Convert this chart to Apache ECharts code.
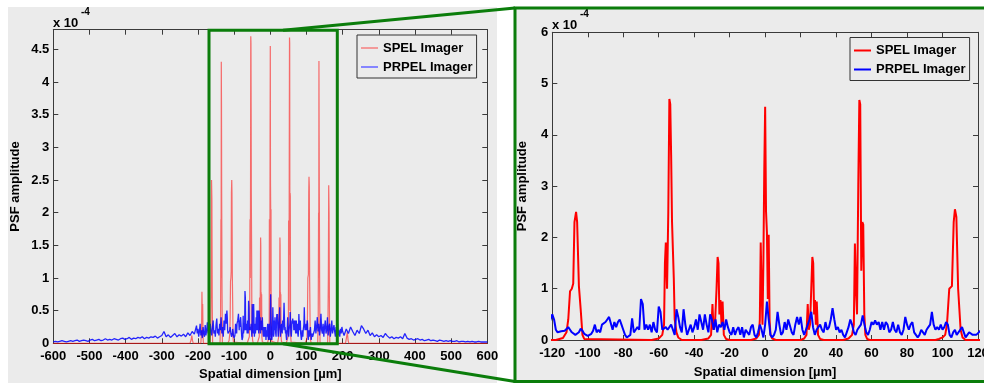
<!DOCTYPE html>
<html>
<head>
<meta charset="utf-8">
<script src="https://cdn.jsdelivr.net/npm/echarts@6/dist/echarts.min.js"></script>
<style>
html,body{margin:0;padding:0;background:#fff;}
#chart{width:984px;height:384px;}
</style>
</head>
<body>
<div id="chart"></div>
<script>
// ---------------- DATA (PSF amplitude, units of 1e-4) ----------------
const seriesNames = ['SPEL Imager', 'PRPEL Imager'];
const xTicksLeft = [-600, 600, 100];   // min, max, interval
const xTicksRight = [-120, 120, 20];

// PRPEL (blue) far left tail: x = -600 + 6k
const blueFarLeftStart = -600, blueFarLeftStep = 6;
const blueFarLeft = [
  0.02,0.03,0.02,0.03,0.04,0.03,0.02,0.03,0.04,0.03,
  0.04,0.05,0.03,0.04,0.05,0.04,0.03,0.05,0.06,0.04,
  0.05,0.06,0.04,0.05,0.07,0.05,0.06,0.05,0.07,0.06,
  0.05,0.07,0.08,0.06,0.07,0.09,0.06,0.08,0.07,0.09,
  0.08,0.10,0.07,0.09,0.08,0.10,0.09,0.11,0.08,0.10,
  0.12,0.18,0.10,0.13,0.09,0.12,0.15,0.10,0.13,0.11,
  0.14,0.10,0.16,0.12,0.18,0.14,0.27
];
// near left: x = -202 + 2k
const blueNearLeftStart = -202, blueNearLeftStep = 2;
const blueNearLeft = [
  0.15,0.22,0.10,0.18,0.30,0.12,0.20,0.08,0.25,0.15,
  0.10,0.28,0.12,0.20,0.32,0.15,0.22,0.10,0.30,0.18,
  0.12,0.25,0.35,0.15,0.20,0.10,0.28,0.38,0.15,0.22,
  0.12,0.30,0.20,0.40,0.15,0.25,0.10,0.35,0.20,0.45,0.30
];
// core: x = -120 + k
const blueCoreStart = -120, blueCoreStep = 1;
const blueCore = [
  0.5,0.4,0.2,0.15,0.15,0.17,0.15,0.18,0.2,0.25,
  0.2,0.15,0.12,0.1,0.08,0.15,0.22,0.18,0.12,0.1,
  0.08,0.1,0.12,0.18,0.3,0.15,0.2,0.15,0.3,0.28,
  0.35,0.4,0.45,0.42,0.2,0.35,0.25,0.35,0.4,0.3,
  0.2,0.1,0.05,0.05,0.1,0.42,0.15,0.2,0.25,0.2,
  0.8,0.7,0.2,0.3,0.2,0.3,0.15,0.35,0.2,0.15,
  0.65,0.55,0.2,0.2,0.25,0.2,0.2,0.3,0.2,0.1,
  0.6,0.45,0.25,0.15,0.6,0.3,0.1,0.2,0.3,0.15,
  0.25,0.4,0.2,0.5,0.5,0.2,0.5,0.3,0.15,0.5,
  0.4,0.2,0.4,0.15,0.3,0.25,0.35,0.2,0.4,0.25,
  0.15,0.1,0.25,0.1,0.2,0.25,0.1,0.25,0.05,0.2,
  0.15,0.1,0.25,0.3,0.1,0.05,0.15,0.3,0.2,0.05,
  0.3,0.75,0.4,0.1,0.05,0.1,0.2,0.55,0.3,0.1,
  0.15,0.35,0.2,0.4,0.4,0.15,0.1,0.3,0.45,0.3,
  0.45,0.2,0.1,0.2,0.3,0.4,0.55,0.25,0.1,0.2,
  0.25,0.3,0.2,0.15,0.35,0.2,0.25,0.4,0.62,0.4,
  0.2,0.25,0.15,0.2,0.1,0.05,0.15,0.25,0.4,0.3,
  0.15,0.1,0.2,0.25,0.3,0.48,0.3,0.15,0.1,0.2,
  0.35,0.3,0.38,0.3,0.35,0.2,0.35,0.2,0.35,0.3,
  0.15,0.2,0.35,0.2,0.15,0.3,0.15,0.1,0.2,0.45,
  0.3,0.2,0.3,0.35,0.15,0.1,0.05,0.1,0.2,0.15,
  0.1,0.2,0.25,0.3,0.55,0.3,0.2,0.25,0.2,0.3,
  0.2,0.25,0.35,0.3,0.1,0.05,0.15,0.2,0.1,0.1,
  0.2,0.25,0.15,0.05,0.1,0.15,0.12,0.1,0.12,0.1,
  0.1
];
// near right: x = 122 + 2k
const blueNearRightStart = 122, blueNearRightStep = 2;
const blueNearRight = [
  0.20,0.35,0.15,0.25,0.40,0.18,0.30,0.12,0.22,0.45,
  0.20,0.15,0.30,0.10,0.25,0.35,0.15,0.20,0.40,0.12,
  0.25,0.30,0.10,0.20,0.35,0.15,0.12,0.28,0.18,0.10,
  0.25,0.15,0.30,0.12,0.20,0.10,0.22,0.15,0.25,0.18
];
// far right: x = 204 + 6k
const blueFarRightStart = 204, blueFarRightStep = 6;
const blueFarRight = [
  0.12,0.22,0.15,0.25,0.18,0.12,0.20,0.15,0.27,0.22,
  0.15,0.20,0.12,0.16,0.10,0.13,0.10,0.12,0.09,0.15,
  0.11,0.08,0.10,0.07,0.09,0.08,0.10,0.07,0.15,0.08,
  0.06,0.07,0.05,0.06,0.07,0.05,0.06,0.04,0.05,0.06,
  0.04,0.05,0.04,0.03,0.05,0.04,0.03,0.04,0.03,0.04,
  0.03,0.03,0.04,0.02,0.03,0.03,0.02,0.03,0.02,0.03,
  0.02,0.02,0.03,0.02,0.02,0.02,0.02
];

// SPEL (red) sampled points
const redX = [
  -600,-222,-219,-217,-215,-213,
  -192,-190,-189,-188,-187,-186,-185,
  -166,-164.5,-163.5,-162.5,-161.5,-160.5,-159.5,
  -139,-137.5,-136.5,-136,-135.5,-135,-134.5,-133.5,-132.5,
  -118,-116,-114,-113,-112,-111,-110,-109,-108.2,-107.5,-106.6,-106,-105,-104,-103,-102,-101,
  -64,-60,-58,-57,-56.5,-56,-55.3,-54.6,-54,-53.5,-53,-52.5,-52,-51.5,-51,-50,-49,-47,
  -36,-32,-30.5,-29.7,-29.1,-28.3,-27.4,-26.8,-26.3,-25.8,-25.2,-24.6,-24,-23.3,-22,-20,
  -8,-5,-3.5,-3,-2.5,-2,-1.5,-1,-0.5,0,0.5,1,1.5,2,2.5,3,4,6,
  20,22,23.3,24,24.6,25.3,26,26.6,27.1,27.6,28.1,28.6,29.1,29.8,31,33,
  44,47,49,50,50.6,51.2,51.8,52.5,53.1,53.6,54.2,54.8,55.3,55.9,56.5,57.5,59,
  96,98,100,101.5,102.5,103.8,105.3,106.3,107,107.8,108.8,109.5,110.2,111.3,113,
  131,132.5,133.5,134,134.5,135,135.5,136.5,137.5,
  158.5,159.5,160.5,161.5,162.5,163.5,164.5,
  208,211,213,215,217,600
];
const redY = [
  0,0,0.05,0.12,0.04,0,
  0,0.2,0.79,0.45,0.6,0.1,0,
  0,0.3,1.0,2.5,2.2,0.6,0,
  0,0.4,1.9,1.0,4.31,3.7,2.3,0.8,0,
  0,0.02,0.04,0.07,0.15,0.4,0.95,1.0,1.1,2.3,2.5,2.3,1.05,0.6,0.1,0.02,0,
  0,0.03,0.1,0.3,1.5,1.9,1.0,2.5,4.7,4.6,3.6,2.3,2.3,1.2,0.4,0.15,0.05,0,
  0,0.03,0.1,0.7,0.2,0.3,1.0,1.62,1.5,0.5,0.78,0.3,0.75,0.1,0.02,0,
  0,0.03,0.1,0.4,1.9,1.0,0.3,1.5,3.3,4.55,2.5,2.1,0.8,2.05,0.4,0.1,0.03,0,
  0,0.03,0.1,0.7,0.2,0.3,1.0,1.62,1.5,0.5,0.78,0.3,0.75,0.1,0.02,0,
  0,0.03,0.1,0.3,1.88,1.0,0.5,3.0,4.68,4.6,1.35,2.3,2.25,0.5,0.1,0.02,0,
  0,0.02,0.05,0.1,0.3,1.0,1.05,2.3,2.55,2.4,1.0,0.6,0.2,0.05,0,
  0,0.4,2.0,1.0,4.32,3.2,2.3,0.8,0,
  0,0.4,1.0,2.42,2.0,0.5,0,
  0,0.1,0.17,0.05,0,0
];

// ---------------- build series data ----------------
function seg(start, step, vals) { return vals.map((v, i) => [start + i * step, v]); }
const blueData = [].concat(
  seg(blueFarLeftStart, blueFarLeftStep, blueFarLeft),
  seg(blueNearLeftStart, blueNearLeftStep, blueNearLeft),
  seg(blueCoreStart, blueCoreStep, blueCore),
  seg(blueNearRightStart, blueNearRightStep, blueNearRight),
  seg(blueFarRightStart, blueFarRightStep, blueFarRight)
);
const redData = redX.map((x, i) => [x, redY[i]]);

const FONT = '"Liberation Sans", Arial, Helvetica, sans-serif';
const FS = 13, FW = 'bold';
const AX = '#3a3a3a';
const GREEN = '#0b7d0b';
const PANEL = '#ebebeb';

function bottomX(grid, t, name, gap) {
  return {
    type: 'value', gridIndex: grid, min: t[0], max: t[1], interval: t[2], position: 'bottom',
    name: name, nameLocation: 'middle', nameGap: gap,
    nameTextStyle: { fontFamily: FONT, fontSize: FS, fontWeight: FW, color: '#000' },
    axisLine: { onZero: false, lineStyle: { color: AX, width: 1 } },
    axisTick: { inside: true, length: 5, lineStyle: { color: AX } },
    axisLabel: { fontFamily: FONT, fontSize: FS, fontWeight: FW, color: '#000', margin: 7 },
    splitLine: { show: false }
  };
}
function topX(grid, t) {
  return {
    type: 'value', gridIndex: grid, min: t[0], max: t[1], interval: t[2], position: 'top',
    axisLine: { onZero: false, lineStyle: { color: AX, width: 1 } },
    axisTick: { inside: true, length: 5, lineStyle: { color: AX } },
    axisLabel: { show: false }, splitLine: { show: false }
  };
}
function leftY(grid, max, interval, gap) {
  return {
    type: 'value', gridIndex: grid, min: 0, max: max, interval: interval, position: 'left',
    name: 'PSF amplitude', nameLocation: 'middle', nameGap: gap, nameRotate: 90,
    nameTextStyle: { fontFamily: FONT, fontSize: FS, fontWeight: FW, color: '#000' },
    axisLine: { show: true, onZero: false, lineStyle: { color: AX, width: 1 } },
    axisTick: { show: true, inside: true, length: 5, lineStyle: { color: AX } },
    axisLabel: { fontFamily: FONT, fontSize: FS, fontWeight: FW, color: '#000', margin: 4, showMaxLabel: max % interval === 0 },
    splitLine: { show: false }
  };
}
function rightY(grid, max, interval) {
  return {
    type: 'value', gridIndex: grid, min: 0, max: max, interval: interval, position: 'right',
    axisLine: { show: true, onZero: false, lineStyle: { color: AX, width: 1 } },
    axisTick: { show: true, inside: true, length: 5, lineStyle: { color: AX } },
    axisLabel: { show: false }, splitLine: { show: false }
  };
}
function legendAt(left, top, redC, blueC) {
  return {
    orient: 'vertical', left: left, top: top, icon: 'rect', itemWidth: 17, itemHeight: 2, itemGap: 3,
    padding: [5, 4, 3, 4], backgroundColor: PANEL, borderColor: '#333', borderWidth: 1, borderRadius: 0,
    textStyle: { fontFamily: FONT, fontSize: FS, fontWeight: FW, color: '#000', lineHeight: 16 },
    data: [
      { name: seriesNames[0], itemStyle: { color: redC } },
      { name: seriesNames[1], itemStyle: { color: blueC } }
    ],
    selectedMode: false
  };
}

const option = {
  animation: false,
  backgroundColor: '#ffffff',
  grid: [
    { left: 53.3, top: 29.7, width: 434, height: 313.6, outerBoundsMode: 'none', containLabel: false },
    { left: 552.3, top: 32.3, width: 425.7, height: 307.7, outerBoundsMode: 'none', containLabel: false }
  ],
  xAxis: [
    bottomX(0, xTicksLeft, 'Spatial dimension [\u00b5m]', 25),
    topX(0, xTicksLeft),
    bottomX(1, xTicksRight, 'Spatial dimension [\u00b5m]', 26),
    topX(1, xTicksRight)
  ],
  yAxis: [
    leftY(0, 4.8, 0.5, 31),
    rightY(0, 4.8, 0.5),
    leftY(1, 6, 1, 23),
    rightY(1, 6, 1)
  ],
  legend: [
    legendAt(357, 35, '#f39a9a', '#8585ff'),
    legendAt(850, 37.5, '#ff0000', '#0000ff')
  ],
  series: [
    { name: seriesNames[0], type: 'line', xAxisIndex: 0, yAxisIndex: 0, data: redData, showSymbol: false, symbol: 'none',
      lineStyle: { color: '#ff0000', width: 1.2, opacity: 0.55 }, itemStyle: { color: '#ff0000' }, z: 2 },
    { name: seriesNames[1], type: 'line', xAxisIndex: 0, yAxisIndex: 0, data: blueData, showSymbol: false, symbol: 'none',
      lineStyle: { color: '#0000ff', width: 1.3, opacity: 0.85 }, itemStyle: { color: '#0000ff' }, z: 3 },
    { name: seriesNames[0], type: 'line', xAxisIndex: 2, yAxisIndex: 2, data: redData, showSymbol: false, symbol: 'none',
      lineStyle: { color: '#ff0000', width: 2 }, itemStyle: { color: '#ff0000' }, z: 2 },
    { name: seriesNames[1], type: 'line', xAxisIndex: 2, yAxisIndex: 2, data: blueData, showSymbol: false, symbol: 'none',
      lineStyle: { color: '#0000ff', width: 2 }, itemStyle: { color: '#0000ff' }, z: 3 }
  ],
  graphic: [
    { type: 'rect', z: -5, silent: true, shape: { x: 8, y: 7, width: 489, height: 376 }, style: { fill: PANEL } },
    { type: 'rect', z: -5, silent: true, shape: { x: 515, y: 8, width: 472, height: 373.5 }, style: { fill: PANEL } },
    { type: 'text', z: 10, silent: true, x: 53, y: 23, style: { text: 'x 10', fontFamily: FONT, fontSize: FS, fontWeight: FW, fill: '#000', verticalAlign: 'middle' } },
    { type: 'text', z: 10, silent: true, x: 81, y: 12, style: { text: '-4', fontFamily: FONT, fontSize: 10, fontWeight: FW, fill: '#000', verticalAlign: 'middle' } },
    { type: 'text', z: 10, silent: true, x: 552, y: 25, style: { text: 'x 10', fontFamily: FONT, fontSize: FS, fontWeight: FW, fill: '#000', verticalAlign: 'middle' } },
    { type: 'text', z: 10, silent: true, x: 580, y: 14, style: { text: '-4', fontFamily: FONT, fontSize: 10, fontWeight: FW, fill: '#000', verticalAlign: 'middle' } },
    { type: 'rect', z: 100, silent: true, shape: { x: 209, y: 30.3, width: 128.3, height: 313.4 }, style: { fill: 'none', stroke: GREEN, lineWidth: 3 } },
    { type: 'line', z: 100, silent: true, shape: { x1: 283, y1: 30.3, x2: 515, y2: 8 }, style: { stroke: GREEN, lineWidth: 3 } },
    { type: 'line', z: 100, silent: true, shape: { x1: 283, y1: 343.7, x2: 515, y2: 381.5 }, style: { stroke: GREEN, lineWidth: 3 } },
    { type: 'rect', z: 100, silent: true, shape: { x: 515, y: 8, width: 472, height: 373.5 }, style: { fill: 'none', stroke: GREEN, lineWidth: 3 } }
  ]
};

const chart = echarts.init(document.getElementById('chart'), null, { renderer: 'canvas', width: 984, height: 384 });
chart.setOption(option);
</script>
</body>
</html>
